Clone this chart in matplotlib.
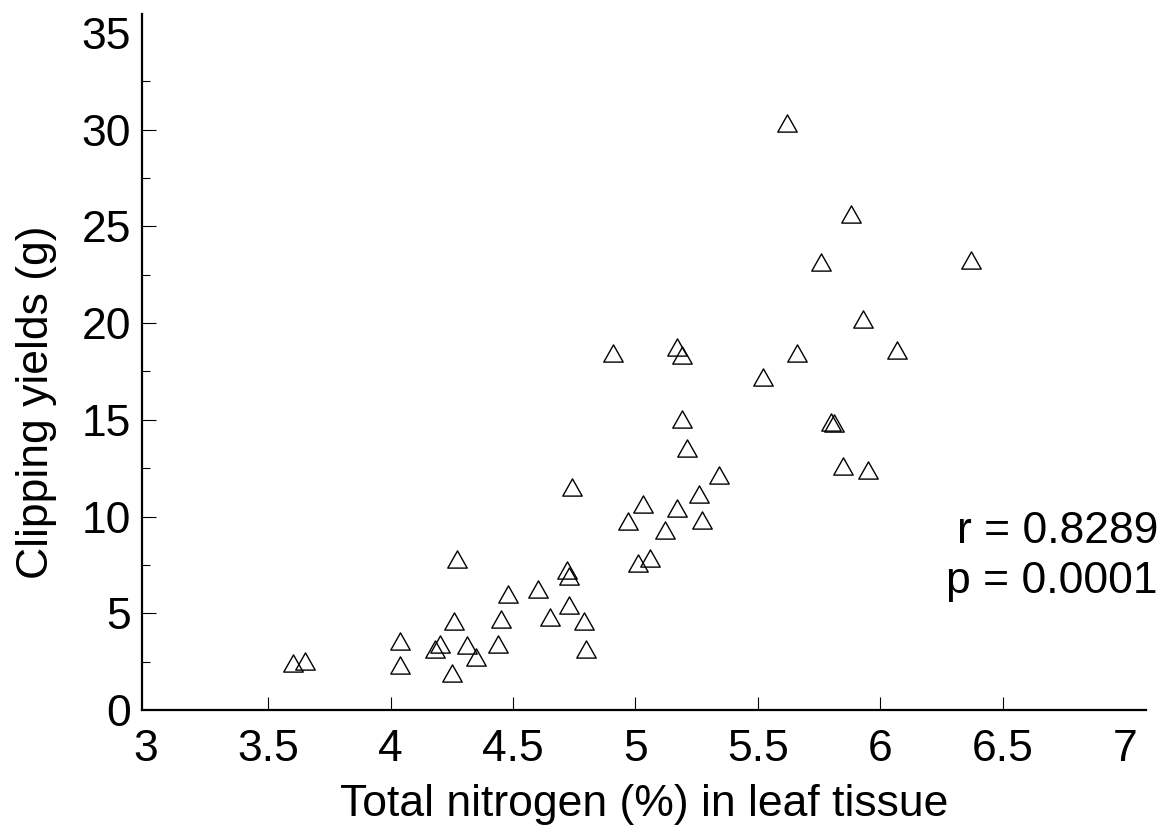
import matplotlib
matplotlib.use("Agg")
import matplotlib.pyplot as plt
from matplotlib.path import Path
from matplotlib.ticker import MultipleLocator

# total nitrogen (%) in leaf tissue vs clipping yield (g)
nitrogen = [5.62, 5.88, 5.76, 6.37, 5.93, 4.91, 5.17, 5.19, 5.66, 6.07,
            5.52, 5.19, 5.80, 5.81, 5.21, 5.34, 5.85, 5.95, 4.74, 5.26,
            5.03, 5.17, 4.97, 5.27, 5.12, 5.06, 5.01, 4.27, 4.72, 4.73,
            4.60, 4.48, 4.73, 4.65, 4.79, 4.26, 4.45, 4.04, 4.44, 4.20,
            4.18, 4.31, 4.35, 4.80, 4.04, 4.25, 3.60, 3.65]
yields = [30.35, 25.61, 23.14, 23.25, 20.23, 18.47, 18.76, 18.35, 18.43, 18.60,
          17.21, 15.02, 14.90, 14.83, 13.52, 12.16, 12.60, 12.39, 11.52, 11.17,
          10.64, 10.44, 9.78, 9.82, 9.30, 7.83, 7.59, 7.82, 7.25, 6.90,
          6.27, 6.02, 5.44, 4.80, 4.58, 4.59, 4.71, 3.58, 3.41, 3.41,
          3.13, 3.34, 2.76, 3.16, 2.31, 1.91, 2.44, 2.52]

x_ticks = [3, 3.5, 4, 4.5, 5, 5.5, 6, 6.5, 7]
x_labels = ["3", "3.5", "4", "4.5", "5", "5.5", "6", "6.5", "7"]
y_ticks = [0, 5, 10, 15, 20, 25, 30, 35]

plt.rcParams['font.family'] = ['Liberation Sans', 'DejaVu Sans']
fs = 32

fig = plt.figure(figsize=(11.63, 8.27), dpi=100)
ax = fig.add_axes([142 / 1163, 1 - 710 / 827, 1004 / 1163, 696 / 827])

# slightly flattened open triangle
tri = Path([(0, 0.885), (-1, -0.885), (1, -0.885), (0, 0.885)],
           [Path.MOVETO, Path.LINETO, Path.LINETO, Path.CLOSEPOLY])
ax.plot(nitrogen, yields, linestyle='none', marker=tri, markersize=14,
        markerfacecolor='none', markeredgecolor='black', markeredgewidth=1.0)

ax.set_xlim(2.984, 7.086)
ax.set_ylim(0.24, 35.97)

for side in ['top', 'right']:
    ax.spines[side].set_visible(False)
for side in ['left', 'bottom']:
    ax.spines[side].set_linewidth(1.6)

ax.set_xticks(x_ticks)
ax.set_xticklabels(x_labels)
ax.set_yticks(y_ticks)
ax.yaxis.set_minor_locator(MultipleLocator(2.5))

ax.tick_params(axis='x', which='major', direction='in', length=9.5, width=0.8,
               pad=14, labelsize=fs)
ax.tick_params(axis='y', which='major', direction='in', length=10, width=0.8,
               pad=8, labelsize=fs)
ax.tick_params(axis='y', which='minor', direction='in', length=5.8, width=0.8)

# no tick marks at the ends of the axes
for t in [ax.xaxis.get_major_ticks()[0], ax.xaxis.get_major_ticks()[-1],
          ax.yaxis.get_major_ticks()[0], ax.yaxis.get_major_ticks()[-1]]:
    t.tick1line.set_visible(False)

ax.set_xlabel("Total nitrogen (%) in leaf tissue", fontsize=fs)
ax.set_ylabel("Clipping yields (g)", fontsize=fs)
ax.xaxis.set_label_coords(0.5, -0.106)
ax.yaxis.set_label_coords(-0.085, 0.4425)

fig.text(1158 / 1163, 1 - 542.7 / 827, "r = 0.8289", ha='right', va='baseline',
         fontsize=fs)
fig.text(1158 / 1163, 1 - 593 / 827, "p = 0.0001", ha='right', va='baseline',
         fontsize=fs)

fig.savefig("out.png", dpi=100)
